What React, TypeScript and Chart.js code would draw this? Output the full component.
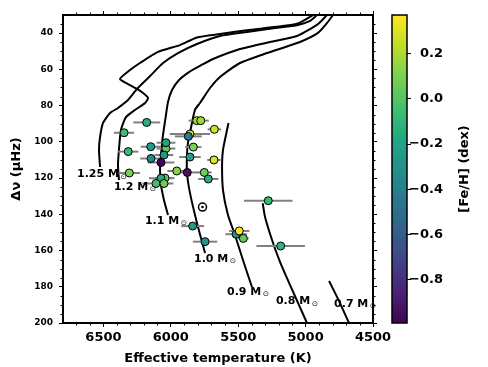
import React, { useEffect, useRef } from 'react';
import { Chart, registerables } from 'chart.js';

Chart.register(...registerables);
Chart.defaults.font.family = 'DejaVu Sans';

// ---------- stars (Teff, Δν, Teff error, [Fe/H]) ----------
const starTeff = [6179, 6347, 6316, 6149, 6147, 6036, 6036, 6051, 6073, 5808, 5778, 5677, 5858, 5870, 5833, 5858, 5680, 6308, 5956, 5878, 5752, 5722, 6043, 6073, 6110, 6051, 5838, 5746, 5516, 5492, 5462, 5277, 5185];
const starDnu = [89.3, 95.0, 105.4, 102.7, 109.2, 103.7, 100.5, 107.3, 111.4, 88.3, 88.3, 93.1, 95.7, 97.0, 102.9, 108.4, 110.0, 117.2, 116.1, 116.9, 116.9, 120.5, 120.0, 120.1, 123.0, 123.0, 146.5, 155.1, 151.0, 149.2, 153.3, 132.5, 157.5];
const starTeffErr = [100, 75, 75, 75, 80, 70, 70, 70, 100, 60, 60, 50, 150, 100, 60, 80, 50, 80, 70, 75, 55, 75, 70, 90, 100, 70, 85, 90, 80, 75, 40, 180, 180];
const starFeH = [-0.15, -0.06, -0.08, -0.23, -0.36, 0.05, -0.2, -0.27, -0.97, 0.17, 0.17, 0.27, 0.36, -0.43, 0.1, -0.23, 0.3, 0.1, 0.12, -0.93, 0.07, -0.14, 0.05, -0.15, -0.04, 0.07, -0.25, -0.3, -0.35, 0.36, 0.04, -0.08, -0.11];

// ---------- Sun ----------
const sunTeff = [5765];
const sunDnu = [136];

// ---------- evolutionary tracks ----------
const track125Teff = [6525, 6533, 6525, 6503, 6451, 6392, 6318, 6251, 6154, 6058, 5947, 5806, 5635, 5435, 5227, 5057, 4967, 4915];
const track125Dnu = [113.9, 104.5, 97.3, 89.6, 84.1, 81.3, 76.9, 70.8, 63.7, 56.5, 51.0, 46.0, 41.6, 39.4, 37.2, 35.5, 33.3, 30];
const track120Teff = [6385, 6392, 6385, 6370, 6333, 6266, 6191, 6169, 6206, 6251, 6318, 6377, 6303, 6229, 6095, 5932, 5806, 5635, 5435, 5064, 4945];
const track120Dnu = [121.1, 112.8, 104.5, 93.5, 86.4, 82.4, 78.6, 75.8, 73.1, 70.8, 68.1, 65.3, 60.4, 56.5, 50.4, 46.6, 42.4, 40.5, 38.4, 34.8, 30];
const track110Teff = [6021, 6051, 6073, 6080, 6073, 6058, 6036, 6021, 5991, 5939, 5865, 5784, 5687, 5487, 5264, 5064, 4908, 4841];
const track110Dnu = [140.4, 132.1, 123.8, 115.6, 107.3, 96.2, 85.2, 78.0, 71.4, 65.9, 61.5, 58.1, 54.3, 48.8, 44.9, 41.6, 35.0, 30];
const track100Teff = [5746, 5806, 5858, 5880, 5880, 5873, 5858, 5821, 5784, 5709, 5635, 5487, 5286, 5042, 4908, 4841, 4797];
const track100Dnu = [161.4, 144.8, 128.2, 117.2, 107.3, 100.6, 95.1, 82.4, 78.6, 70.3, 64.2, 56.5, 51.0, 44.9, 39.9, 34.4, 30];
const track090Teff = [5572, 5591, 5613, 5620, 5613, 5576, 5524, 5465, 5398];
const track090Dnu = [89.6, 96.2, 104.5, 112.8, 126.6, 140.4, 151.4, 165.2, 180.1];
const track080Teff = [5318, 5301, 5249, 5190, 5116, 5049, 4990];
const track080Dnu = [133.9, 141.5, 154.2, 166.3, 179.0, 190.1, 200];
const track070Teff = [4826, 4752, 4678];
const track070Dnu = [176.8, 187.9, 200];

// ---------- track labels ----------
const labelText = ['1.25 M', '1.2 M', '1.1 M', '1.0 M', '0.9 M', '0.8 M', '0.7 M'];
const labelTeff = [6696, 6422, 6192, 5828, 5583, 5220, 4789];
const labelDnu = [117.8, 124.9, 143.7, 164.7, 182.9, 187.9, 189.5];

// ---------- axes ----------
const xMajorTicks = [4500, 5000, 5500, 6000, 6500];
const xMinorTicks = [4600, 4700, 4800, 4900, 5100, 5200, 5300, 5400, 5600, 5700, 5800, 5900, 6100, 6200, 6300, 6400, 6600, 6700];
const yMajorTicks = [40, 60, 80, 100, 120, 140, 160, 180, 200];
const yMinorTicks = [35, 45, 50, 55, 65, 70, 75, 85, 90, 95, 105, 110, 115, 125, 130, 135, 145, 150, 155, 165, 170, 175, 185, 190, 195];
const fehTicks = [-0.8, -0.6, -0.4, -0.2, 0.0, 0.2];
const fehMin = -0.99;
const fehMax = 0.37;

const VIRIDIS = [[68, 1, 84], [72, 36, 117], [65, 68, 135], [53, 95, 141], [42, 120, 142], [33, 145, 140], [34, 168, 132], [68, 191, 112], [122, 209, 81], [189, 223, 38], [253, 231, 37]];
function viridis(t: number): string {
  const c = Math.min(1, Math.max(0, t)) * 10;
  const i = Math.min(9, Math.floor(c));
  const f = c - i;
  const a = VIRIDIS[i], b = VIRIDIS[i + 1];
  const m = (k: number) => Math.round(a[k] + (b[k] - a[k]) * f);
  return `rgb(${m(0)},${m(1)},${m(2)})`;
}
const fehColor = (v: number) => viridis((v - fehMin) / (fehMax - fehMin));
const fmtFeh = (v: number) => (v < -1e-9 ? '\u2212' : '') + Math.abs(v).toFixed(1);

const bold = (size: number) => ({ family: 'DejaVu Sans', size, weight: 'bold' as const });

const overlay = {
  id: 'overlay',
  afterDraw(chart: any) {
    const ctx = chart.ctx as CanvasRenderingContext2D;
    const { x, y, cb } = chart.scales;
    const a = chart.chartArea;
    ctx.save();
    // minor ticks
    ctx.strokeStyle = '#000';
    ctx.lineWidth = 1;
    ctx.beginPath();
    for (const v of xMinorTicks) {
      const p = Math.round(x.getPixelForValue(v)) + 0.5;
      ctx.moveTo(p, a.bottom); ctx.lineTo(p, a.bottom + 2.5);
      ctx.moveTo(p, a.top); ctx.lineTo(p, a.top - 2.5);
    }
    for (const v of yMinorTicks) {
      const p = Math.round(y.getPixelForValue(v)) + 0.5;
      ctx.moveTo(a.left, p); ctx.lineTo(a.left - 2.5, p);
      ctx.moveTo(a.right, p); ctx.lineTo(a.right + 2.5, p);
    }
    ctx.stroke();

    // track labels
    ctx.fillStyle = '#000';
    ctx.textBaseline = 'middle';
    ctx.textAlign = 'left';
    labelText.forEach((t, i) => {
      const px = x.getPixelForValue(labelTeff[i]);
      const py = y.getPixelForValue(labelDnu[i]);
      ctx.font = 'bold 11px "DejaVu Sans"';
      ctx.fillText(t, px, py);
      const w = ctx.measureText(t).width;
      ctx.font = '7.5px "DejaVu Sans"';
      ctx.fillText('\u2299', px + w + 1.5, py + 2.5);
    });

    // colour bar
    const barW = 15;
    const bx = cb.left - barW;
    for (let py = Math.floor(cb.top); py < cb.bottom; py++) {
      const v = cb.getValueForPixel(py + 0.5);
      ctx.fillStyle = fehColor(v);
      ctx.fillRect(bx, py, barW, 1);
    }
    ctx.strokeStyle = '#000';
    ctx.lineWidth = 1.5;
    ctx.strokeRect(bx, cb.top, barW, cb.bottom - cb.top);

    // colour bar label
    ctx.translate(cb.left + 58, (cb.top + cb.bottom) / 2);
    ctx.rotate(-Math.PI / 2);
    ctx.textAlign = 'center';
    ctx.textBaseline = 'middle';
    ctx.fillStyle = '#000';
    ctx.font = 'bold 13px "DejaVu Sans"';
    ctx.fillText('[Fe/H] (dex)', 0, 0);
    ctx.restore();
  },
};

export default function App() {
  const ref = useRef<HTMLCanvasElement>(null);
  useEffect(() => {
    const canvas = ref.current!;
    const tracks: [number[], number[]][] = [
      [track125Teff, track125Dnu],
      [track120Teff, track120Dnu],
      [track110Teff, track110Dnu],
      [track100Teff, track100Dnu],
      [track090Teff, track090Dnu],
      [track080Teff, track080Dnu],
      [track070Teff, track070Dnu],
    ];
    const datasets: any[] = [];
    datasets.push({
      data: starTeff.map((t, i) => ({ x: t, y: starDnu[i] })),
      pointBackgroundColor: starFeH.map(fehColor),
      pointBorderColor: '#000',
      pointBorderWidth: 1,
      pointRadius: 4,
      order: 0,
    });
    datasets.push({
      data: sunTeff.map((t, i) => ({ x: t, y: sunDnu[i] })),
      pointBackgroundColor: '#000',
      pointBorderWidth: 0,
      pointRadius: 1.3,
      order: 0.5,
    });
    datasets.push({
      data: sunTeff.map((t, i) => ({ x: t, y: sunDnu[i] })),
      pointBackgroundColor: 'rgba(255,255,255,0)',
      pointBorderColor: '#000',
      pointBorderWidth: 1.5,
      pointRadius: 4,
      order: 1,
    });
    starTeff.forEach((t, i) => {
      datasets.push({
        data: [{ x: t - starTeffErr[i], y: starDnu[i] }, { x: t + starTeffErr[i], y: starDnu[i] }],
        showLine: true,
        borderColor: '#808080',
        borderWidth: 2,
        pointRadius: 0,
        order: 2,
      });
    });
    tracks.forEach(([tx, ty]) => {
      datasets.push({
        data: tx.map((t, i) => ({ x: t, y: ty[i] })),
        showLine: true,
        borderColor: '#000',
        borderWidth: 2,
        pointRadius: 0,
        tension: 0.2,
        order: 3,
      });
    });

    const tickGrid = { drawOnChartArea: false, drawTicks: true, tickLength: 4, tickWidth: 1, tickColor: '#000' };
    const border = { display: true, color: '#000', width: 2 };

    const chart = new Chart(canvas, {
      type: 'scatter',
      data: { datasets },
      options: {
        animation: false,
        responsive: false,
        devicePixelRatio: 1,
        events: [],
        layout: { padding: { left: 0, top: 0, bottom: 0, right: 45 } },
        plugins: { legend: { display: false }, tooltip: { enabled: false } },
        scales: {
          x: {
            type: 'linear', position: 'bottom', min: 4500, max: 6800, reverse: true,
            afterBuildTicks: (s: any) => { s.ticks = xMajorTicks.map((v) => ({ value: v })); },
            afterFit: (s: any) => { s.height = 44; },
            ticks: { color: '#000', font: bold(13), padding: 3, maxRotation: 0, autoSkip: false, callback: (v: any) => String(v) },
            grid: tickGrid, border,
            title: { display: true, text: 'Effective temperature (K)', color: '#000', font: bold(13), padding: { top: 0, bottom: 1 } },
          },
          x2: {
            type: 'linear', position: 'top', min: 4500, max: 6800, reverse: true,
            afterBuildTicks: (s: any) => { s.ticks = xMajorTicks.map((v) => ({ value: v })); },
            afterFit: (s: any) => { s.height = 15; },
            ticks: { display: false }, grid: tickGrid, border,
          },
          y: {
            type: 'linear', position: 'left', min: 30, max: 200, reverse: true,
            afterBuildTicks: (s: any) => { s.ticks = yMajorTicks.map((v) => ({ value: v })); },
            afterFit: (s: any) => { s.width = 63; },
            ticks: { color: '#000', font: bold(9), padding: 6, autoSkip: false, callback: (v: any) => String(v) },
            grid: tickGrid, border,
            title: { display: true, text: 'Δν (μHz)', color: '#000', font: bold(13), padding: { top: 9, bottom: 0 } },
          },
          y2: {
            type: 'linear', axis: 'y', position: 'right', min: 30, max: 200, reverse: true, weight: 1,
            afterBuildTicks: (s: any) => { s.ticks = yMajorTicks.map((v) => ({ value: v })); },
            afterFit: (s: any) => { s.width = 34; },
            ticks: { display: false }, grid: tickGrid, border,
          },
          cb: {
            type: 'linear', axis: 'y', position: 'right', min: fehMin, max: fehMax, weight: 2,
            afterBuildTicks: (s: any) => { s.ticks = fehTicks.map((v) => ({ value: v })); },
            afterFit: (s: any) => { s.width = 36; },
            ticks: { color: '#000', font: bold(13), padding: 2, crossAlign: 'far', autoSkip: false, callback: (v: any) => fmtFeh(Number(v)) },
            grid: tickGrid,
            border: { display: false },
          },
        },
      } as any,
      plugins: [overlay],
    });
    return () => chart.destroy();
  }, []);
  return (
    <div style={{ position: 'absolute', left: 0, top: 0, width: 488, height: 367, background: '#fff' }}>
      <canvas ref={ref} width={488} height={367} style={{ display: 'block', width: 488, height: 367 }} />
    </div>
  );
}
